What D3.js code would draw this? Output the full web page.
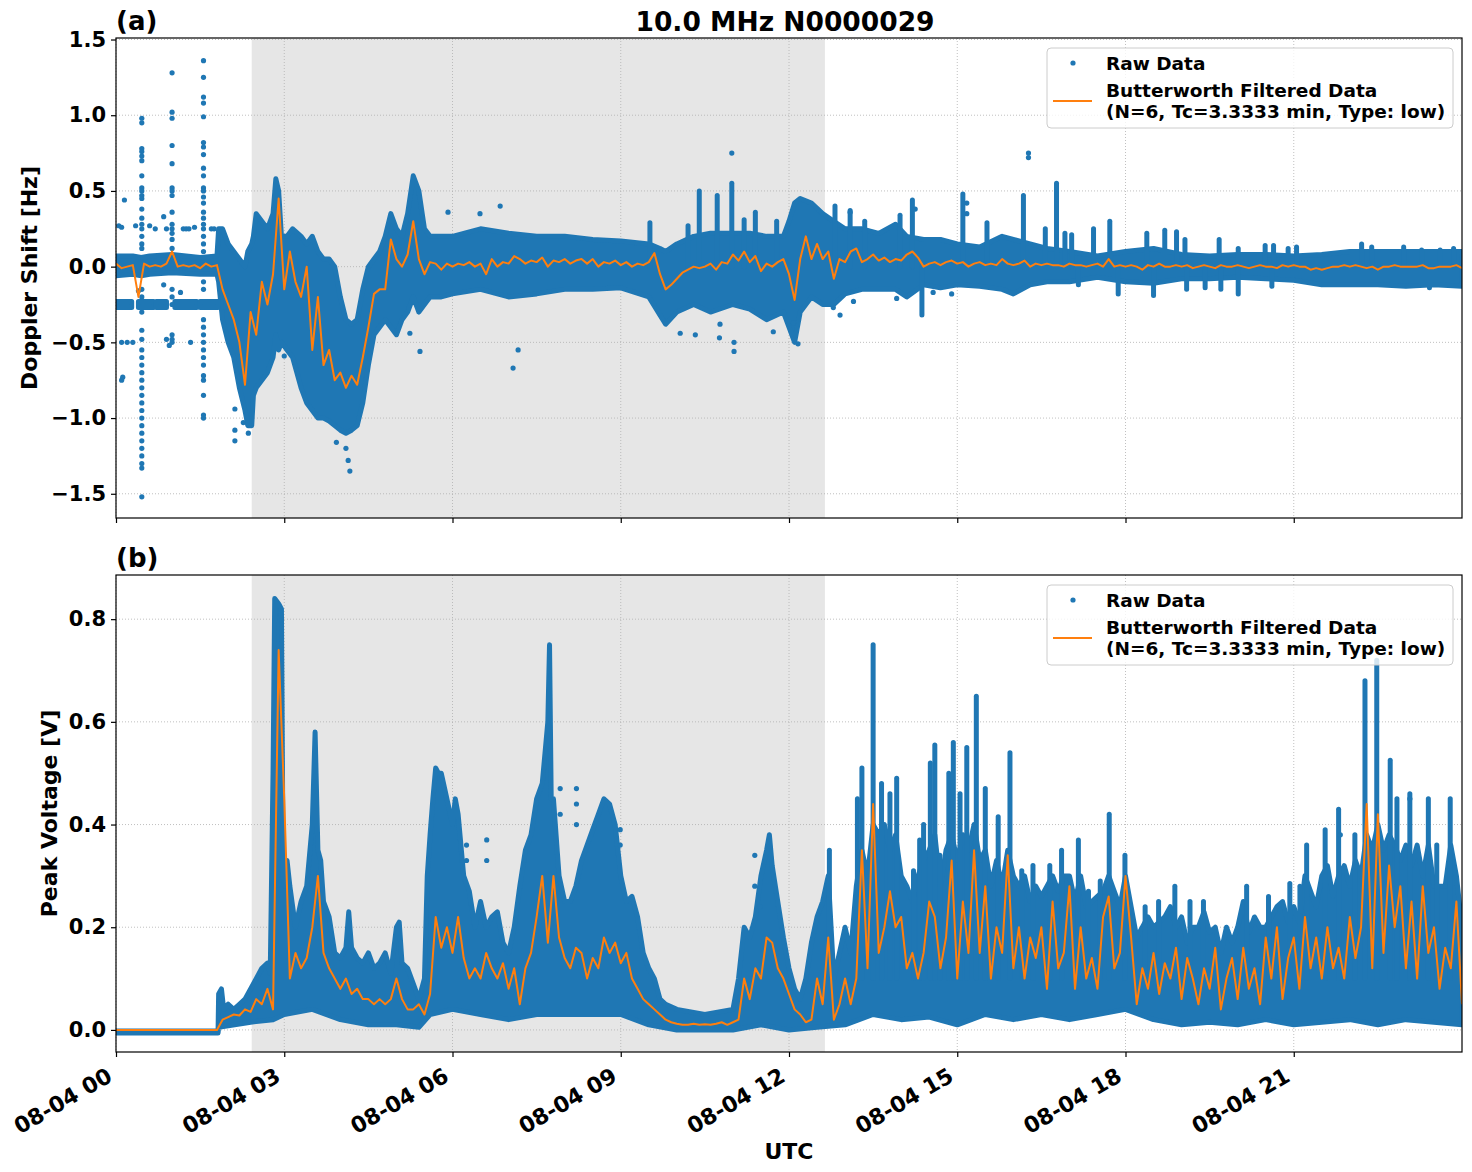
<!DOCTYPE html>
<html>
<head>
<meta charset="utf-8">
<script src="https://cdn.jsdelivr.net/npm/d3@7"></script>
<style>
body { margin: 0; background: #fff; }
text { font-family: "DejaVu Sans", sans-serif; font-weight: bold; }
</style>
</head>
<body>
<div id="chart"></div>
<script>

// ---------------- data (hours after 08-04 00:00 UTC) ----------------

var titleText = "10.0 MHz N0000029";
var tickHours = [0, 3, 6, 9, 12, 15, 18, 21];
var dopplerTicks = [-1.5, -1.0, -0.5, 0.0, 0.5, 1.0, 1.5];
var voltTicks = [0.0, 0.2, 0.4, 0.6, 0.8];

// shaded interval
var shadeStart = 2.42;
var shadeEnd = 12.64;

// (a) raw doppler data: dense band (low / high edges)
var dopplerBandHours = [0, 0.3, 0.45, 0.6, 1.0, 1.5, 1.8,
	1.83, 1.9, 2.0, 2.1, 2.2, 2.3, 2.35, 2.42, 2.45, 2.5,
	2.6, 2.7, 2.8, 2.85, 2.9, 2.95, 3.05, 3.15, 3.3, 3.4,
	3.5, 3.6, 3.7, 3.8, 3.9, 4.0, 4.1, 4.2, 4.3, 4.4,
	4.5, 4.6, 4.7, 4.8, 4.9, 5.0, 5.1, 5.2, 5.3, 5.4,
	5.5, 5.6, 5.8, 6.0, 6.5, 7.0, 7.5, 8.0, 8.5, 9.0,
	9.5, 9.7, 9.8, 10.0, 10.3, 10.6, 11.0, 11.3, 11.6, 11.9,
	12.0, 12.1, 12.2, 12.4, 12.6, 12.8, 13.0, 13.3, 13.6, 13.9,
	14.1, 14.4, 14.7, 15.0, 15.4, 15.8, 16.0, 16.3, 16.6, 17.0,
	17.5, 18.0, 18.5, 19.0, 19.5, 20.0, 20.5, 21.0, 21.5, 22.0,
	22.5, 23.0, 23.5, 24.0];
var dopplerBandLow = [-0.06, -0.05, -0.06, -0.05, -0.04, -0.05, -0.05,
	-0.10, -0.35, -0.50, -0.60, -0.80, -0.95, -1.05, -1.05, -0.85, -0.80,
	-0.75, -0.70, -0.60, -0.45, -0.55, -0.50, -0.55, -0.60, -0.80, -0.90,
	-0.95, -1.00, -1.00, -1.02, -1.05, -1.08, -1.10, -1.08, -1.05, -0.90,
	-0.65, -0.45, -0.40, -0.35, -0.40, -0.45, -0.35, -0.30, -0.20, -0.30,
	-0.25, -0.20, -0.20, -0.18, -0.15, -0.20, -0.18, -0.15, -0.15, -0.14,
	-0.20, -0.32, -0.38, -0.30, -0.25, -0.30, -0.25, -0.28, -0.35, -0.30,
	-0.40, -0.50, -0.30, -0.20, -0.25, -0.25, -0.18, -0.15, -0.15, -0.15,
	-0.20, -0.12, -0.14, -0.12, -0.13, -0.15, -0.18, -0.12, -0.10, -0.10,
	-0.07, -0.10, -0.11, -0.08, -0.08, -0.07, -0.08, -0.09, -0.12, -0.12,
	-0.12, -0.13, -0.12, -0.13];
var dopplerBandHigh = [0.07, 0.07, 0.06, 0.07, 0.08, 0.06, 0.07,
	0.25, 0.25, 0.15, 0.10, 0.05, 0.00, 0.10, 0.15, 0.20, 0.35,
	0.30, 0.25, 0.35, 0.58, 0.50, 0.20, 0.20, 0.25, 0.20, 0.15,
	0.20, 0.10, 0.05, 0.05, 0.00, -0.20, -0.35, -0.38, -0.35, -0.15,
	0.00, 0.05, 0.10, 0.20, 0.35, 0.25, 0.20, 0.35, 0.60, 0.50,
	0.25, 0.20, 0.20, 0.20, 0.25, 0.22, 0.20, 0.20, 0.18, 0.17,
	0.15, 0.12, 0.10, 0.15, 0.20, 0.22, 0.22, 0.22, 0.20, 0.20,
	0.30, 0.42, 0.45, 0.42, 0.35, 0.30, 0.25, 0.25, 0.22, 0.28,
	0.20, 0.18, 0.18, 0.15, 0.13, 0.20, 0.18, 0.15, 0.12, 0.10,
	0.07, 0.10, 0.12, 0.08, 0.07, 0.08, 0.08, 0.07, 0.08, 0.10,
	0.10, 0.10, 0.10, 0.10];

// (a) second trace near -0.25 Hz before the event
var dopplerSideStart = [0.0, 0.40, 0.72, 1.05, 1.50];
var dopplerSideEnd = [0.28, 0.67, 0.90, 1.44, 1.82];
var dopplerSideLevel = -0.25;

// (a) vertical spikes of raw points
var dopplerSpikeHours = [0.46, 1.0, 1.56];
var dopplerSpikeValues = [
	[0.98, 0.95, 0.78, 0.76, 0.73, 0.70, 0.60, 0.52, 0.50, 0.47, 0.45, 0.38, 0.32, 0.28, 0.25, 0.20, 0.15, 0.12,
	 -0.15, -0.20, -0.30, -0.42, -0.48, -0.55, -0.60, -0.65, -0.70, -0.75, -0.80, -0.85, -0.90, -0.95, -1.00,
	 -1.05, -1.10, -1.15, -1.20, -1.25, -1.30, -1.33, -1.52],
	[1.28, 1.02, 0.98, 0.80, 0.68, 0.52, 0.50, 0.47, 0.36, 0.28, 0.25, 0.22, 0.18, 0.12,
	 -0.15, -0.20, -0.25, -0.45, -0.48, -0.50],
	[1.36, 1.25, 1.12, 1.08, 0.99, 0.82, 0.79, 0.74, 0.65, 0.60, 0.52, 0.50, 0.46, 0.42, 0.36, 0.32, 0.28, 0.25,
	 0.20, 0.15, 0.10, -0.10, -0.15, -0.35, -0.40, -0.45, -0.50, -0.55, -0.60, -0.65, -0.72, -0.75, -0.85,
	 -0.98, -1.00]
];

// (a) solid columns of raw points sticking out of the band (tip value)
var dopplerColHours = [9.52, 10.20, 10.40, 10.72, 10.98, 11.20, 11.40, 11.78, 12.82, 13.09, 13.35, 13.98,
	14.20, 15.10, 15.53, 16.18, 16.57, 16.77, 17.04, 16.92, 17.43, 17.72, 18.38, 18.70, 18.91, 19.06,
	19.67, 20.01, 20.49, 20.64, 20.90, 21.05, 22.21, 22.39, 22.96, 23.28, 23.61, 23.85,
	14.37, 17.16, 17.87, 18.50, 19.09, 19.42, 19.70, 20.01, 20.61, 23.42];
var dopplerColTips = [0.29, 0.27, 0.50, 0.47, 0.55, 0.31, 0.36, 0.30, 0.40, 0.37, 0.30, 0.34,
	0.44, 0.48, 0.29, 0.47, 0.25, 0.55, 0.21, 0.22, 0.25, 0.30, 0.22, 0.24, 0.23, 0.18,
	0.18, 0.12, 0.14, 0.14, 0.12, 0.13, 0.15, 0.13, 0.13, 0.11, 0.11, 0.12,
	-0.32, -0.12, -0.18, -0.19, -0.15, -0.14, -0.15, -0.18, -0.13, -0.14];

// (a) scattered raw points
var dopplerDotHours = [0.05, 0.10, 0.15, 0.35, 0.60, 0.70, 0.85, 0.90, 1.20, 1.25, 1.30, 1.40, 1.70, 1.75,
	0.10, 0.20, 0.30, 0.90, 0.95, 1.33, 0.10, 0.12, 0.40, 0.85, 1.15,
	2.12, 2.12, 2.12, 2.27, 2.36, 3.00, 3.93, 4.10, 4.14, 4.17, 5.24, 5.42, 7.08, 7.17, 5.92, 6.85, 6.49,
	10.06, 10.33, 10.76, 10.98, 11.02, 11.02, 10.77, 11.72,
	16.27, 16.27, 15.17, 15.17, 14.25, 13.92, 14.57, 14.90,
	12.91, 12.79, 13.15, 12.08, 12.16, 13.09];
var dopplerDotValues = [0.27, 0.26, 0.44, 0.27, 0.27, 0.25, 0.33, 0.25, 0.25, 0.25, 0.25, 0.26, 0.25, 0.25,
	-0.50, -0.50, -0.50, -0.48, -0.52, -0.50, -0.75, -0.73, -0.16, -0.12, -0.17,
	-0.94, -1.08, -1.15, -1.03, -1.10, -0.59, -1.16, -1.20, -1.28, -1.35, -0.44, -0.56, -0.67, -0.55, 0.36, 0.40, 0.35,
	-0.44, -0.45, -0.47, 0.75, -0.50, -0.56, -0.38, -0.43,
	0.75, 0.72, 0.42, 0.35, 0.38, -0.21, -0.17, -0.18,
	-0.32, -0.27, -0.23, -0.37, -0.51, 0.36];

// (a) Butterworth filtered doppler, one value every 0.1 h
var dopplerFilt = [
	0.02, -0.01, 0.00, 0.01, -0.20, 0.02, 0.00, 0.01, 0.00, 0.02,
	0.10, 0.00, 0.01, 0.00, 0.01, -0.01, 0.02, 0.00, 0.01, -0.15,
	-0.25, -0.35, -0.50, -0.78, -0.30, -0.45, -0.10, -0.25, -0.05, 0.45,
	-0.15, 0.10, -0.10, -0.20, 0.00, -0.55, -0.20, -0.65, -0.55, -0.75,
	-0.70, -0.80, -0.72, -0.78, -0.60, -0.40, -0.18, -0.15, -0.15, 0.18,
	0.05, 0.00, 0.08, 0.30, 0.05, -0.05, 0.03, 0.02, -0.02, 0.02,
	0.00, 0.02, 0.01, 0.03, 0.00, 0.02, -0.05, 0.05, 0.00, 0.03,
	0.02, 0.07, 0.05, 0.02, 0.04, 0.03, 0.06, 0.00, 0.04, 0.03,
	0.05, 0.02, 0.04, 0.05, 0.02, 0.05, 0.00, 0.03, 0.02, 0.04,
	0.01, 0.03, 0.00, 0.02, 0.01, 0.03, 0.09, -0.05, -0.15, -0.12,
	-0.08, -0.04, -0.02, 0.00, -0.01, 0.00, 0.02, -0.02, 0.03, 0.02,
	0.08, 0.04, 0.10, 0.03, 0.07, -0.03, 0.02, 0.00, 0.03, 0.05,
	-0.05, -0.22, 0.05, 0.20, 0.05, 0.15, 0.05, 0.10, -0.08, 0.05,
	0.03, 0.10, 0.12, 0.03, 0.05, 0.08, 0.04, 0.06, 0.03, 0.05,
	0.04, 0.08, 0.10, 0.06, 0.00, 0.02, 0.03, 0.01, 0.03, 0.04,
	0.02, 0.03, 0.00, 0.02, 0.03, 0.01, 0.02, 0.01, 0.05, 0.02,
	0.01, 0.02, 0.04, 0.00, 0.02, 0.01, 0.02, 0.01, 0.01, 0.00,
	0.02, 0.01, 0.01, 0.00, 0.01, 0.02, 0.00, 0.05, 0.00, 0.01,
	0.00, 0.01, 0.00, -0.02, 0.01, 0.00, 0.02, 0.00, 0.00, 0.01,
	0.00, 0.01, -0.01, 0.00, 0.01, 0.00, -0.01, 0.01, 0.00, 0.00,
	0.01, 0.00, -0.01, 0.00, 0.01, 0.00, 0.00, -0.01, 0.01, 0.00,
	0.01, 0.00, 0.00, -0.02, -0.01, -0.02, -0.01, 0.00, 0.00, 0.01,
	0.00, 0.01, 0.00, -0.01, 0.00, -0.02, 0.00, 0.00, 0.01, 0.00,
	0.00, 0.00, 0.00, 0.01, -0.01, -0.01, 0.00, 0.00, 0.00, 0.01,
	-0.01];

// (b) raw peak voltage: upper edge of the dense band
var voltHighHours = [0, 1.82, 1.83, 1.88, 1.92, 2.0, 2.1, 2.2, 2.3, 2.4,
	2.5, 2.6, 2.7, 2.75, 2.8, 2.83, 2.9, 2.95, 2.98, 3.0,
	3.05, 3.1, 3.2, 3.3, 3.4, 3.5, 3.55, 3.6, 3.65, 3.7,
	3.8, 3.9, 4.0, 4.1, 4.15, 4.2, 4.3, 4.4, 4.5, 4.6,
	4.7, 4.8, 4.9, 5.0, 5.05, 5.1, 5.2, 5.3, 5.4, 5.5,
	5.55, 5.6, 5.65, 5.7, 5.75, 5.8, 5.9, 6.0, 6.05, 6.1,
	6.2, 6.3, 6.4, 6.5, 6.6, 6.7, 6.8, 6.9, 7.0, 7.1,
	7.2, 7.3, 7.4, 7.5, 7.6, 7.7, 7.73, 7.76, 7.8, 7.9,
	8.0, 8.1, 8.2, 8.3, 8.4, 8.5, 8.6, 8.7, 8.8, 8.9,
	9.0, 9.1, 9.2, 9.3, 9.4, 9.5, 9.6, 9.7, 9.8, 10.0,
	10.5, 11.0, 11.1, 11.2, 11.3, 11.4, 11.5, 11.6, 11.65, 11.7,
	11.8, 11.9, 12.0, 12.1, 12.2, 12.3, 12.4, 12.5, 12.6, 12.7,
	12.75, 12.8, 12.9, 13.0, 13.1, 13.2, 13.3, 13.4, 13.5, 13.6,
	13.7, 13.8, 13.9, 14.0, 14.1, 14.2, 14.3, 14.4, 14.5, 14.6,
	14.7, 14.8, 14.9, 15.0, 15.1, 15.2, 15.3, 15.4, 15.5, 15.6,
	15.7, 15.8, 15.9, 16.0, 16.1, 16.2, 16.3, 16.4, 16.5, 16.6,
	16.7, 16.8, 16.9, 17.0, 17.1, 17.2, 17.3, 17.4, 17.5, 17.6,
	17.7, 17.8, 17.9, 18.0, 18.1, 18.2, 18.3, 18.4, 18.5, 18.6,
	18.7, 18.8, 18.9, 19.0, 19.1, 19.2, 19.3, 19.4, 19.5, 19.6,
	19.7, 19.8, 19.9, 20.0, 20.1, 20.2, 20.3, 20.4, 20.5, 20.6,
	20.7, 20.8, 20.9, 21.0, 21.1, 21.2, 21.3, 21.4, 21.5, 21.6,
	21.7, 21.8, 21.9, 22.0, 22.1, 22.2, 22.3, 22.4, 22.5, 22.6,
	22.7, 22.8, 22.9, 23.0, 23.1, 23.2, 23.3, 23.4, 23.5, 23.6,
	23.7, 23.8, 23.9, 24.0];
var voltHigh = [-0.002, -0.002, 0.07, 0.08, 0.04, 0.05, 0.04, 0.05, 0.06, 0.08,
	0.10, 0.12, 0.13, 0.11, 0.50, 0.84, 0.83, 0.82, 0.30, 0.28,
	0.33, 0.28, 0.20, 0.25, 0.28, 0.40, 0.58, 0.35, 0.33, 0.25,
	0.22, 0.15, 0.14, 0.16, 0.23, 0.16, 0.14, 0.13, 0.15, 0.12,
	0.13, 0.15, 0.11, 0.20, 0.21, 0.13, 0.12, 0.09, 0.06, 0.10,
	0.30, 0.38, 0.45, 0.51, 0.50, 0.50, 0.45, 0.40, 0.45, 0.42,
	0.30, 0.27, 0.20, 0.25, 0.20, 0.22, 0.23, 0.17, 0.15, 0.20,
	0.28, 0.35, 0.38, 0.45, 0.48, 0.60, 0.75, 0.45, 0.45, 0.30,
	0.25, 0.25, 0.28, 0.33, 0.36, 0.39, 0.42, 0.45, 0.44, 0.40,
	0.30, 0.25, 0.26, 0.22, 0.15, 0.12, 0.10, 0.06, 0.05, 0.04,
	0.03, 0.04, 0.10, 0.20, 0.18, 0.22, 0.30, 0.35, 0.38, 0.32,
	0.25, 0.18, 0.12, 0.08, 0.06, 0.10, 0.17, 0.22, 0.25, 0.30,
	0.20, 0.10, 0.15, 0.20, 0.15, 0.28, 0.35, 0.30, 0.40, 0.38,
	0.40, 0.35, 0.38, 0.30, 0.28, 0.25, 0.30, 0.33, 0.35, 0.38,
	0.28, 0.35, 0.38, 0.33, 0.38, 0.35, 0.40, 0.33, 0.35, 0.28,
	0.33, 0.28, 0.35, 0.30, 0.28, 0.30, 0.25, 0.28, 0.26, 0.28,
	0.30, 0.27, 0.30, 0.30, 0.25, 0.30, 0.24, 0.25, 0.26, 0.27,
	0.30, 0.27, 0.24, 0.30, 0.24, 0.18, 0.20, 0.22, 0.20, 0.21,
	0.22, 0.24, 0.20, 0.22, 0.17, 0.20, 0.20, 0.23, 0.19, 0.20,
	0.15, 0.20, 0.17, 0.20, 0.25, 0.19, 0.22, 0.20, 0.20, 0.22,
	0.24, 0.25, 0.21, 0.24, 0.21, 0.30, 0.27, 0.24, 0.30, 0.32,
	0.26, 0.30, 0.32, 0.28, 0.33, 0.30, 0.38, 0.35, 0.40, 0.35,
	0.38, 0.36, 0.33, 0.36, 0.32, 0.36, 0.30, 0.36, 0.28, 0.28,
	0.28, 0.36, 0.30, 0.20];

// (b) raw peak voltage: lower edge of the dense band
var voltLowHours = [0, 1.82, 1.83, 2.4, 2.8, 3.0, 3.5, 4.0, 4.5, 5.0,
	5.4, 5.6, 6.0, 6.5, 7.0, 7.5, 8.0, 8.5, 9.0, 9.5,
	10.0, 11.0, 11.5, 12.0, 12.5, 13.0, 13.5, 14.0, 14.5, 15.0,
	15.5, 16.0, 16.5, 17.0, 17.5, 18.0, 18.5, 19.0, 19.5, 20.0,
	20.5, 21.0, 21.5, 22.0, 22.5, 23.0, 23.5, 24.0];
var voltLow = [-0.006, -0.006, 0.005, 0.015, 0.02, 0.03, 0.04, 0.02, 0.01, 0.01,
	0.005, 0.03, 0.04, 0.03, 0.02, 0.03, 0.03, 0.03, 0.03, 0.01,
	0.0, 0.0, 0.01, 0.0, 0.005, 0.01, 0.03, 0.02, 0.025, 0.01,
	0.03, 0.02, 0.03, 0.02, 0.03, 0.04, 0.02, 0.01, 0.015, 0.01,
	0.02, 0.01, 0.015, 0.02, 0.01, 0.02, 0.015, 0.01];

// (b) solid columns of raw points above the band (top value)
var voltColHours = [12.72, 13.22, 13.30, 13.50, 13.65, 13.80, 13.92, 14.22, 14.33, 14.40, 14.52, 14.60,
	14.69, 14.85, 14.93, 15.05, 15.17, 15.34, 15.50, 15.73, 15.94, 16.15, 16.35, 16.65, 16.86,
	17.16, 17.34, 17.55, 17.71, 17.99, 18.35, 18.59, 18.88, 19.15, 19.39, 20.16, 20.55, 20.93,
	21.11, 21.23, 21.56, 21.80, 22.09, 22.27, 22.48, 22.72, 22.84, 23.07, 23.40, 23.55, 23.79];
var voltColTops = [0.35, 0.45, 0.51, 0.75, 0.48, 0.46, 0.49, 0.31, 0.37, 0.40, 0.52, 0.555,
	0.34, 0.50, 0.56, 0.46, 0.55, 0.65, 0.47, 0.415, 0.54, 0.31, 0.32, 0.32, 0.35,
	0.37, 0.27, 0.29, 0.42, 0.34, 0.24, 0.25, 0.28, 0.25, 0.25, 0.28, 0.26, 0.285,
	0.28, 0.36, 0.39, 0.43, 0.38, 0.68, 0.72, 0.525, 0.45, 0.46, 0.45, 0.36, 0.45];

// (b) scattered raw points above the band
var voltDotHours = [6.25, 6.25, 6.61, 6.61, 8.21, 8.21, 8.21, 7.92, 7.92, 8.99, 8.99,
	11.39, 11.39, 11.48, 21.83, 23.07];
var voltDotValues = [0.36, 0.33, 0.37, 0.33, 0.47, 0.44, 0.40, 0.47, 0.42, 0.39, 0.36,
	0.34, 0.28, 0.24, 0.38, 0.45];

// (b) Butterworth filtered peak voltage, one value every 0.1 h
var voltFilt = [
	0.0, 0.0, 0.0, 0.0, 0.0, 0.0, 0.0, 0.0, 0.0, 0.0,
	0.0, 0.0, 0.0, 0.0, 0.0, 0.0, 0.0, 0.0, 0.0, 0.02,
	0.025, 0.03, 0.028, 0.04, 0.035, 0.06, 0.05, 0.08, 0.04, 0.74,
	0.45, 0.10, 0.15, 0.12, 0.14, 0.20, 0.30, 0.15, 0.12, 0.10,
	0.08, 0.10, 0.07, 0.08, 0.06, 0.06, 0.05, 0.06, 0.05, 0.06,
	0.10, 0.06, 0.04, 0.04, 0.05, 0.03, 0.07, 0.22, 0.16, 0.20,
	0.15, 0.22, 0.14, 0.10, 0.12, 0.10, 0.15, 0.12, 0.10, 0.13,
	0.08, 0.12, 0.05, 0.12, 0.15, 0.22, 0.30, 0.17, 0.30, 0.18,
	0.14, 0.12, 0.16, 0.15, 0.10, 0.14, 0.12, 0.18, 0.15, 0.17,
	0.13, 0.15, 0.10, 0.08, 0.06, 0.05, 0.04, 0.03, 0.02, 0.015,
	0.012, 0.01, 0.01, 0.012, 0.01, 0.011, 0.01, 0.012, 0.015, 0.01,
	0.015, 0.02, 0.10, 0.06, 0.12, 0.10, 0.18, 0.17, 0.12, 0.10,
	0.07, 0.04, 0.03, 0.015, 0.02, 0.10, 0.05, 0.18, 0.02, 0.05,
	0.10, 0.05, 0.10, 0.35, 0.12, 0.44, 0.15, 0.20, 0.27, 0.20,
	0.22, 0.12, 0.15, 0.10, 0.15, 0.25, 0.22, 0.12, 0.18, 0.33,
	0.10, 0.25, 0.15, 0.35, 0.15, 0.28, 0.10, 0.20, 0.15, 0.34,
	0.12, 0.20, 0.10, 0.18, 0.14, 0.20, 0.08, 0.25, 0.12, 0.15,
	0.28, 0.08, 0.20, 0.10, 0.14, 0.08, 0.22, 0.26, 0.12, 0.15,
	0.30, 0.18, 0.05, 0.12, 0.08, 0.15, 0.07, 0.13, 0.10, 0.16,
	0.06, 0.14, 0.10, 0.05, 0.12, 0.08, 0.16, 0.04, 0.10, 0.14,
	0.06, 0.16, 0.08, 0.12, 0.05, 0.18, 0.10, 0.20, 0.06, 0.14,
	0.18, 0.08, 0.22, 0.12, 0.18, 0.10, 0.20, 0.12, 0.16, 0.10,
	0.22, 0.14, 0.20, 0.44, 0.12, 0.42, 0.15, 0.32, 0.20, 0.28,
	0.12, 0.25, 0.10, 0.28, 0.15, 0.20, 0.08, 0.16, 0.12, 0.25,
	0.05];

// legend labels
var legendRaw = "Raw Data";
var legendFilt = ["Butterworth Filtered Data", "(N=6, Tc=3.3333 min, Type: low)"];


// ---------------- layout ----------------

var svgWidth = 1472;
var svgHeight = 1172;

var margin = { left: 116, right: 10 };
var width = svgWidth - margin.left - margin.right;

var panelA = { top: 38, height: 480 };
var panelB = { top: 575, height: 477 };

var blue = "#1f77b4";
var orange = "#ff7f0e";

var svg = d3.select("#chart")
	.append("svg")
	.attr("width", svgWidth)
	.attr("height", svgHeight);

svg.append("rect")
	.attr("width", svgWidth)
	.attr("height", svgHeight)
	.attr("fill", "#fff");


// time scale (hours -> dates in UTC)

var dayStart = Date.UTC(2024, 7, 4);

function toDate(h) {
	return new Date(dayStart + h * 3600000);
}

var xTimeScale = d3.scaleUtc()
	.domain([toDate(0), toDate(24)])
	.range([0, width]);

function xh(h) {
	return xTimeScale(toDate(h));
}

var filtHours = d3.range(0, 241).map(i => i / 10);


// y scales

var yDoppler = d3.scaleLinear().domain([-1.66, 1.51]).range([panelA.height, 0]);
var yVolt = d3.scaleLinear().domain([-0.043, 0.886]).range([panelB.height, 0]);


// function used to draw the shading and the grid under the data

function drawBackground(chartGroup, panelHeight, yLinearScale, yTicks, clipId) {

	chartGroup.append("clipPath")
		.attr("id", clipId)
		.append("rect")
		.attr("width", width)
		.attr("height", panelHeight);

	chartGroup.append("rect")
		.attr("x", xh(shadeStart))
		.attr("width", xh(shadeEnd) - xh(shadeStart))
		.attr("height", panelHeight)
		.attr("fill", "#e6e6e6");

	var grid = chartGroup.append("g")
		.attr("stroke", "#b0b0b0")
		.attr("stroke-width", 0.8)
		.attr("stroke-dasharray", "1,2");

	grid.selectAll(".vgrid")
		.data(tickHours)
		.enter()
		.append("line")
		.attr("x1", d => xh(d))
		.attr("x2", d => xh(d))
		.attr("y1", 0)
		.attr("y2", panelHeight);

	grid.selectAll(".hgrid")
		.data(yTicks)
		.enter()
		.append("line")
		.attr("x1", 0)
		.attr("x2", width)
		.attr("y1", d => yLinearScale(d))
		.attr("y2", d => yLinearScale(d));
}


// function used to build a closed band outline from an upper and a lower edge

function bandPath(hiHours, hi, loHours, lo, yLinearScale) {
	var pts = hiHours.map((h, i) => [xh(h), yLinearScale(hi[i])]);
	for (var i = loHours.length - 1; i >= 0; i--) {
		pts.push([xh(loHours[i]), yLinearScale(lo[i])]);
	}
	return d3.line()(pts) + "Z";
}

function drawBand(group, d) {
	group.append("path")
		.attr("d", d)
		.attr("fill", blue)
		.attr("stroke", blue)
		.attr("stroke-width", 5)
		.attr("stroke-linejoin", "round");
}

// columns of raw points: a thick round-capped line from the base value to the tip

function drawColumns(group, hours, tips, base, yLinearScale) {
	group.selectAll(null)
		.data(hours)
		.enter()
		.append("line")
		.attr("x1", d => xh(d))
		.attr("x2", d => xh(d))
		.attr("y1", yLinearScale(base))
		.attr("y2", (d, i) => yLinearScale(tips[i]))
		.attr("stroke", blue)
		.attr("stroke-width", 5)
		.attr("stroke-linecap", "round");
}

function drawDots(group, hours, values, yLinearScale) {
	group.selectAll(null)
		.data(hours)
		.enter()
		.append("circle")
		.attr("cx", d => xh(d))
		.attr("cy", (d, i) => yLinearScale(values[i]))
		.attr("r", 2.6)
		.attr("fill", blue);
}

function drawFilt(group, values, yLinearScale) {
	var line = d3.line()
		.x((d, i) => xh(filtHours[i]))
		.y(d => yLinearScale(d));

	group.append("path")
		.datum(values)
		.attr("d", line)
		.attr("fill", "none")
		.attr("stroke", orange)
		.attr("stroke-width", 2)
		.attr("stroke-linejoin", "round");
}


// function used to draw the legend box

function drawLegend(chartGroup) {
	var lg = chartGroup.append("g")
		.attr("transform", `translate(931, 10)`);

	lg.append("rect")
		.attr("width", 406)
		.attr("height", 80)
		.attr("rx", 4)
		.attr("fill", "#fff")
		.attr("fill-opacity", 0.8)
		.attr("stroke", "#cccccc")
		.attr("stroke-width", 1);

	lg.append("circle")
		.attr("cx", 26)
		.attr("cy", 15)
		.attr("r", 2.6)
		.attr("fill", blue);

	lg.append("text")
		.attr("x", 59)
		.attr("y", 22)
		.style("font-size", "18.5px")
		.text(legendRaw);

	lg.append("line")
		.attr("x1", 6)
		.attr("x2", 45)
		.attr("y1", 53)
		.attr("y2", 53)
		.attr("stroke", orange)
		.attr("stroke-width", 2);

	lg.selectAll(".lf")
		.data(legendFilt)
		.enter()
		.append("text")
		.attr("x", 59)
		.attr("y", (d, i) => 49 + i * 21)
		.style("font-size", "18.5px")
		.text(d => d);
}


// function used to draw axes and frame on top

function drawAxes(chartGroup, panelHeight, yLinearScale, yTicks, showDates) {

	var bottomAxis = d3.axisBottom(xTimeScale)
		.tickValues(tickHours.map(toDate))
		.tickSize(5)
		.tickFormat(showDates ? d3.utcFormat("%m-%d %H") : "");

	var xAxis = chartGroup.append("g")
		.attr("transform", `translate(0, ${panelHeight})`)
		.call(bottomAxis);

	xAxis.select(".domain").remove();
	xAxis.selectAll("line").attr("stroke-width", 1.2);

	if (showDates) {
		xAxis.selectAll("text")
			.attr("y", 0)
			.attr("dy", "0.75em")
			.attr("text-anchor", "end")
			.attr("transform", "translate(-11, 14) rotate(-30)")
			.style("font-size", "22px")
			.style("font-family", "DejaVu Sans")
			.style("font-weight", "bold");
	}

	var leftAxis = d3.axisLeft(yLinearScale)
		.tickValues(yTicks)
		.tickSize(5)
		.tickPadding(5)
		.tickFormat(d3.format(".1f"));

	var yAxis = chartGroup.append("g").call(leftAxis);

	yAxis.select(".domain").remove();
	yAxis.selectAll("line").attr("stroke-width", 1.2);
	yAxis.selectAll("text")
		.style("font-size", "21px")
		.style("font-family", "DejaVu Sans")
		.style("font-weight", "bold");

	chartGroup.append("rect")
		.attr("width", width)
		.attr("height", panelHeight)
		.attr("fill", "none")
		.attr("stroke", "#000")
		.attr("stroke-width", 1.2);
}


// ---------------- panel (a) ----------------

var chartA = svg.append("g")
	.attr("transform", `translate(${margin.left}, ${panelA.top})`);

drawBackground(chartA, panelA.height, yDoppler, dopplerTicks, "clipA");

var dataA = chartA.append("g").attr("clip-path", "url(#clipA)");

drawBand(dataA, bandPath(dopplerBandHours, dopplerBandHigh, dopplerBandHours, dopplerBandLow, yDoppler));

dopplerSideStart.forEach(function(s, i) {
	var hrs = [s, dopplerSideEnd[i]];
	drawBand(dataA, bandPath(hrs, [dopplerSideLevel + 0.02, dopplerSideLevel + 0.02],
		hrs, [dopplerSideLevel - 0.02, dopplerSideLevel - 0.02], yDoppler));
});

dopplerSpikeHours.forEach(function(h, i) {
	drawDots(dataA, dopplerSpikeValues[i].map(() => h), dopplerSpikeValues[i], yDoppler);
});

drawColumns(dataA, dopplerColHours, dopplerColTips, 0, yDoppler);
drawDots(dataA, dopplerDotHours, dopplerDotValues, yDoppler);
drawFilt(dataA, dopplerFilt, yDoppler);

drawLegend(chartA);
drawAxes(chartA, panelA.height, yDoppler, dopplerTicks, false);

chartA.append("text")
	.attr("x", 0)
	.attr("y", -8)
	.style("font-size", "26px")
	.text("(a)");

chartA.append("text")
	.attr("x", width / 2 - 4)
	.attr("y", -7)
	.attr("text-anchor", "middle")
	.style("font-size", "26.5px")
	.text(titleText);

svg.append("text")
	.attr("transform", `translate(37, ${panelA.top + panelA.height / 2}) rotate(-90)`)
	.attr("text-anchor", "middle")
	.style("font-size", "22px")
	.text("Doppler Shift [Hz]");


// ---------------- panel (b) ----------------

var chartB = svg.append("g")
	.attr("transform", `translate(${margin.left}, ${panelB.top})`);

drawBackground(chartB, panelB.height, yVolt, voltTicks, "clipB");

var dataB = chartB.append("g").attr("clip-path", "url(#clipB)");

drawBand(dataB, bandPath(voltHighHours, voltHigh, voltLowHours, voltLow, yVolt));
drawColumns(dataB, voltColHours, voltColTops, 0.1, yVolt);
drawDots(dataB, voltDotHours, voltDotValues, yVolt);
drawFilt(dataB, voltFilt, yVolt);

drawLegend(chartB);
drawAxes(chartB, panelB.height, yVolt, voltTicks, true);

chartB.append("text")
	.attr("x", 0)
	.attr("y", -8)
	.style("font-size", "26px")
	.text("(b)");

svg.append("text")
	.attr("transform", `translate(57, ${panelB.top + panelB.height / 2}) rotate(-90)`)
	.attr("text-anchor", "middle")
	.style("font-size", "22px")
	.text("Peak Voltage [V]");

svg.append("text")
	.attr("x", margin.left + width / 2)
	.attr("y", 1159)
	.attr("text-anchor", "middle")
	.style("font-size", "22px")
	.text("UTC");

</script>
</body>
</html>
